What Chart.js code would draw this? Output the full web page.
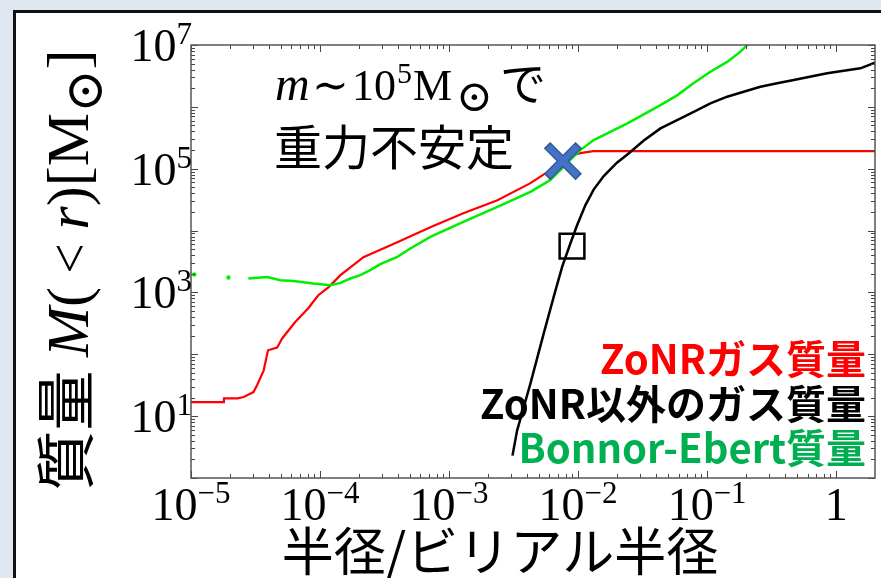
<!DOCTYPE html>
<html>
<head>
<meta charset="utf-8">
<script src="https://cdn.jsdelivr.net/npm/chart.js@4.4.0/dist/chart.umd.min.js"></script>
<style>
  html, body { margin: 0; padding: 0; background: #dfe8f0; }
  canvas { display: block; }
</style>
</head>
<body>
<canvas id="chart" width="881" height="578"></canvas>
<script>
// radius / virial radius  vs  enclosed mass [Msun]
const xTicks = [1e-5, 1e-4, 1e-3, 1e-2, 1e-1, 1];
const xTickLabels = ['10^−5', '10^−4', '10^−3', '10^−2', '10^−1', '1'];
const yTicks = [1e1, 1e3, 1e5, 1e7];
const yTickLabels = ['10^1', '10^3', '10^5', '10^7'];

// ZoNR gas mass (red)
const zonrR = [1.0e-5, 1.78e-5, 1.8e-5, 2.3e-5, 2.56e-5, 3.05e-5, 3.25e-5, 3.66e-5, 3.95e-5, 4.65e-5, 5.1e-5, 6.4e-5, 8.1e-5, 9.7e-5, 1.16e-4, 1.44e-4, 2.17e-4, 3.97e-4, 7.16e-4, 1.29e-3, 2.37e-3, 4.27e-3, 6.1e-3, 7.98e-3, 9.18e-3, 1.04e-2, 1.31e-2, 2.0];
const zonrM = [16.9, 16.9, 19.4, 19.4, 20.4, 24.5, 31.5, 55, 116, 128, 182, 330, 555, 900, 1210, 1900, 3720, 6490, 11350, 19100, 31000, 58500, 94800, 1.28e5, 1.66e5, 1.79e5, 1.93e5, 1.93e5];

// gas mass outside ZoNR (black)
const otherR = [3.1e-3, 3.37e-3, 4.27e-3, 5.41e-3, 6.47e-3, 7.52e-3, 8.71e-3, 9.82e-3, 1.14e-2, 1.32e-2, 1.58e-2, 2.0e-2, 2.45e-2, 3.23e-2, 4.35e-2, 5.85e-2, 7.87e-2, 0.106, 0.143, 0.192, 0.259, 0.349, 0.469, 0.851, 1.54, 2.0];
const otherM = [2.3, 5.9, 33.6, 216, 845, 2590, 6180, 12200, 25800, 46000, 76000, 1.25e5, 1.75e5, 2.85e5, 4.49e5, 6.11e5, 8.33e5, 1.14e6, 1.46e6, 1.75e6, 2.11e6, 2.4e6, 2.71e6, 3.49e6, 4.2e6, 5.2e6];

// Bonnor-Ebert mass (green)
const beDotR = [1.06e-5, 1.95e-5];
const beDotM = [1950, 1740];
const beR = [2.78e-5, 3.9e-5, 4.92e-5, 6.21e-5, 8.87e-5, 1.2e-4, 1.44e-4, 1.72e-4, 2.05e-4, 2.45e-4, 2.93e-4, 3.97e-4, 5.01e-4, 7.16e-4, 1.29e-3, 2.37e-3, 4.27e-3, 6.1e-3, 9.18e-3, 1.04e-2, 1.32e-2, 2.41e-2, 4.35e-2, 5.89e-2, 7.83e-2, 0.106, 0.144, 0.181, 0.209];
const beM = [1680, 1780, 1570, 1535, 1390, 1310, 1425, 1680, 1900, 2290, 2860, 3750, 5130, 7900, 13800, 24200, 42300, 65500, 1.56e5, 2.0e5, 2.9e5, 5.41e5, 1.07e6, 1.55e6, 2.4e6, 3.7e6, 5.37e6, 7.8e6, 1.04e7];

// markers
const collapseR = [7.62e-3];
const collapseM = [1.33e5];
const squareR = [8.97e-3];
const squareM = [5600];

const serif = '"Liberation Serif", "DejaVu Serif", serif';
const jp = '"Noto Sans CJK JP", "Noto Sans", sans-serif';

const pts = (xs, ys) => xs.map((x, i) => ({ x: x, y: ys[i] }));

// draw a row of [text, font, dy] pieces
function rich(ctx, parts, x, y, align) {
  let w = 0;
  parts.forEach(p => { ctx.font = p[1]; w += ctx.measureText(p[0]).width; });
  let cx = align === 'right' ? x - w : align === 'center' ? x - w / 2 : x;
  parts.forEach(p => {
    ctx.font = p[1];
    ctx.fillText(p[0], cx, y + (p[2] || 0));
    cx += ctx.measureText(p[0]).width;
  });
}

function tickParts(label) {
  const s = label.split('^');
  const parts = [[s[0], '46px ' + serif]];
  if (s[1]) parts.push([s[1], '31px ' + serif, -17]);
  return parts;
}

const frame = {
  id: 'frame',
  beforeDraw(chart) {
    const ctx = chart.ctx;
    ctx.save();
    ctx.fillStyle = '#dfe8f0';
    ctx.fillRect(0, 0, chart.width, chart.height);
    ctx.fillStyle = '#ffffff';
    ctx.fillRect(13, 10, chart.width, chart.height);
    ctx.strokeStyle = '#111';
    ctx.lineWidth = 3;
    ctx.strokeRect(14.5, 11.5, chart.width + 10, chart.height + 10);
    ctx.restore();
  },
  afterDraw(chart) {
    const ctx = chart.ctx, a = chart.chartArea;
    const xs = chart.scales.x, ys = chart.scales.y;
    ctx.save();

    // inward ticks on all four sides
    ctx.strokeStyle = '#444';
    ctx.lineWidth = 1;
    ctx.beginPath();
    for (let d = -5; d <= 0; d++) {
      for (let k = 1; k <= 9; k++) {
        const v = k * Math.pow(10, d);
        if (v < xs.min || v >= xs.max) continue;
        const px = Math.round(xs.getPixelForValue(v)) + 0.5;
        const len = k === 1 ? 7 : 4;
        ctx.moveTo(px, a.bottom); ctx.lineTo(px, a.bottom - len);
        ctx.moveTo(px, a.top); ctx.lineTo(px, a.top + len);
      }
    }
    for (let d = 0; d <= 7; d++) {
      for (let k = 1; k <= 9; k++) {
        const v = k * Math.pow(10, d);
        if (v < ys.min || v > ys.max) continue;
        const py = Math.round(ys.getPixelForValue(v)) + 0.5;
        const len = k === 1 ? 7 : 4;
        ctx.moveTo(a.left, py); ctx.lineTo(a.left + len, py);
        ctx.moveTo(a.right, py); ctx.lineTo(a.right - len, py);
      }
    }
    ctx.stroke();

    ctx.strokeStyle = '#555';
    ctx.lineWidth = 1.5;
    ctx.strokeRect(a.left, a.top, a.right - a.left, a.bottom - a.top);

    // tick labels
    ctx.fillStyle = '#000';
    ctx.textBaseline = 'alphabetic';
    xTicks.forEach((v, i) => {
      rich(ctx, tickParts(xTickLabels[i]), xs.getPixelForValue(v), a.bottom + 42, 'center');
    });
    yTicks.forEach((v, i) => {
      rich(ctx, tickParts(yTickLabels[i]), a.left + 1, ys.getPixelForValue(v) + 16, 'right');
    });

    // axis titles
    ctx.font = '52px ' + jp;
    ctx.textAlign = 'center';
    ctx.fillText('半径/ビリアル半径', 500, 571);
    ctx.textAlign = 'left';

    ctx.save();
    ctx.translate(66, 270);
    ctx.rotate(-Math.PI / 2);
    rich(ctx, [
      ['質量 ', '60px ' + jp],
      ['M', 'italic 60px ' + serif],
      ['(', '60px ' + serif],
      [' < ', '54px ' + serif],
      ['r', 'italic 60px ' + serif],
      [')[M', '60px ' + serif],
      ['⊙', '52px ' + serif, 14],
      [']', '60px ' + serif]
    ], 0, 22, 'center');
    ctx.restore();

    // annotation
    const ann = [
      ['m', 'italic 48px ' + serif, 275],
      ['∼', '44px ' + serif, 312],
      ['10', '44px ' + serif, 352],
      ['5', '30px ' + serif, 397, -17],
      ['M', '44px ' + serif, 413],
      ['⊙', '44px ' + serif, 456, 11],
      ['で', '46px ' + jp, 500]
    ];
    ann.forEach(p => { ctx.font = p[1]; ctx.fillText(p[0], p[2], 100 + (p[3] || 0)); });
    ctx.font = '48px ' + jp;
    ctx.fillText('重力不安定', 274, 165);

    // legend text
    ctx.font = 'bold 40px ' + jp;
    ctx.textAlign = 'right';
    ctx.fillStyle = '#ff0000';
    ctx.fillText('ZoNRガス質量', 866, 374);
    ctx.fillStyle = '#000000';
    ctx.fillText('ZoNR以外のガス質量', 866, 419);
    ctx.fillStyle = '#00b050';
    ctx.fillText('Bonnor-Ebert質量', 866, 463);
    ctx.restore();
  }
};

const line = (data, color, width) => ({
  data: data, showLine: true, borderColor: color, backgroundColor: color,
  borderWidth: width, pointRadius: 0, tension: 0
});

new Chart(document.getElementById('chart'), {
  type: 'scatter',
  data: {
    datasets: [
      { data: pts(squareR, squareM), pointStyle: 'rect', pointRadius: 17.5,
        pointBorderWidth: 2.5, pointBorderColor: '#000', pointBackgroundColor: 'rgba(0,0,0,0)' },
      { data: pts(collapseR, collapseM), pointStyle: 'crossRot', pointRadius: 21,
        pointBorderWidth: 6.5, pointBorderColor: '#4472c4' },
      { data: pts(collapseR, collapseM), pointStyle: 'crossRot', pointRadius: 22.5,
        pointBorderWidth: 9, pointBorderColor: '#2f5597' },
      line(pts(otherR, otherM), '#000000', 2.5),
      line(pts(beR, beM), '#00ee00', 2.5),
      { data: pts(beDotR, beDotM), pointRadius: 2.2, pointBorderWidth: 0,
        pointBackgroundColor: '#00ee00' },
      line(pts(zonrR, zonrM), '#ff0000', 2.2)
    ]
  },
  options: {
    responsive: false,
    animation: false,
    devicePixelRatio: 1,
    layout: { autoPadding: false, padding: { left: 191, top: 45, right: 6, bottom: 100 } },
    scales: {
      x: { type: 'logarithmic', min: 1e-5, max: 2, display: false },
      y: { type: 'logarithmic', min: 1, max: 1e7, display: false }
    },
    plugins: {
      legend: { display: false },
      tooltip: { enabled: false }
    }
  },
  plugins: [frame]
});
</script>
</body>
</html>
